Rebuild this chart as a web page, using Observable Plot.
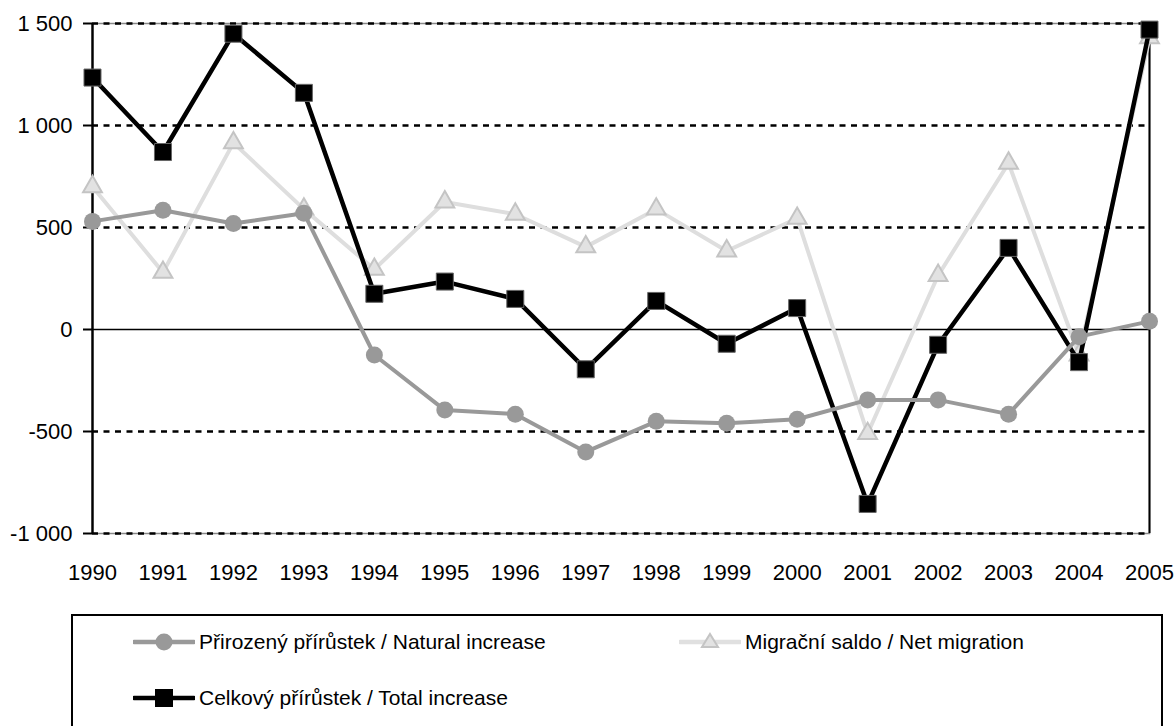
<!DOCTYPE html>
<html>
<head>
<meta charset="utf-8">
<script src="https://cdn.jsdelivr.net/npm/d3@7"></script>
<script src="https://cdn.jsdelivr.net/npm/@observablehq/plot@0.6"></script>
<style>
  html, body { margin: 0; padding: 0; overflow: hidden; background: #fff; }
  body { font-family: 'Liberation Sans', Arial, sans-serif; position: relative; width: 1175px; height: 726px; }
  #legend { position: absolute; left: 71px; top: 614px; width: 1092px; height: 140px; border: 2px solid #000; box-sizing: border-box; }
  .item { position: absolute; display: flex; align-items: center; font-size: 21px; color: #000; white-space: nowrap; }
  .item svg { display: block; margin-right: 4px; }
</style>
</head>
<body>
<div id="chart"></div>
<div id="legend"></div>
<script>
const years = [1990, 1991, 1992, 1993, 1994, 1995, 1996, 1997, 1998, 1999, 2000, 2001, 2002, 2003, 2004, 2005];
const natural = [530, 585, 520, 570, -125, -395, -415, -600, -450, -460, -440, -345, -345, -415, -35, 40];
const migration = [700, 280, 915, 590, 295, 625, 565, 405, 590, 385, 545, -510, 265, 815, -125, 1430];
const total = [1235, 870, 1450, 1160, 175, 235, 150, -195, 140, -70, 105, -855, -75, 400, -160, 1470];
const yTicks = [-1000, -500, 0, 500, 1000, 1500];
const gridValues = [-1000, -500, 500, 1000, 1500];
const seriesNames = ["Přirozený přírůstek / Natural increase", "Migrační saldo / Net migration", "Celkový přírůstek / Total increase"];

const rows = years.map((y, i) => ({year: y, natural: natural[i], migration: migration[i], total: total[i]}));

function fmt(v) {
  const a = Math.abs(v);
  const s = a >= 1000 ? Math.floor(a / 1000) + " " + String(a % 1000).padStart(3, "0") : String(a);
  return (v < 0 ? "-" : "") + s;
}

const chart = Plot.plot({
  width: 1175,
  height: 600,
  marginLeft: 92,
  marginRight: 26,
  marginTop: 23,
  marginBottom: 67,
  style: {fontFamily: "'Liberation Sans', Arial, sans-serif", fontSize: "22px", color: "#000", background: "#fff"},
  x: {domain: [1990, 2005]},
  y: {domain: [-1000, 1500]},
  marks: [
    Plot.frame({stroke: "#888", strokeWidth: 1.5}),
    Plot.ruleY(gridValues, {stroke: "#000", strokeWidth: 2.6, strokeDasharray: "6,5.5"}),
    Plot.ruleY([0], {stroke: "#000", strokeWidth: 1.6}),
    Plot.ruleX([2005], {stroke: "#000", strokeWidth: 2}),
    Plot.ruleX([1990], {stroke: "#000", strokeWidth: 2.4}),
    Plot.axisY({ticks: yTicks, tickFormat: fmt, tickSize: 9, tickPadding: 11, stroke: "#000", strokeWidth: 2, fill: "#000", label: null}),
    Plot.axisX({ticks: years, tickFormat: d => String(d), tickSize: 0, tickPadding: 31, fill: "#000", label: null}),
    Plot.line(rows, {x: "year", y: "migration", stroke: "#dedede", strokeWidth: 4}),
    Plot.dot(rows, {x: "year", y: "migration", symbol: "triangle", r: 7, fill: "#e2e2e2", stroke: "#c4c4c4", strokeWidth: 2}),
    Plot.line(rows, {x: "year", y: "total", stroke: "#000", strokeWidth: 4.5}),
    Plot.dot(rows, {x: "year", y: "total", symbol: "square", r: 9.6, fill: "#000", stroke: "#666", strokeWidth: 1}),
    Plot.line(rows, {x: "year", y: "natural", stroke: "#999", strokeWidth: 4}),
    Plot.dot(rows, {x: "year", y: "natural", r: 8.5, fill: "#999", stroke: "none"})
  ]
});
document.getElementById("chart").appendChild(chart);

// Legend
const legend = document.getElementById("legend");
const swatches = [
  `<svg width="62" height="22"><line x1="1" y1="11" x2="61" y2="11" stroke="#999" stroke-width="4.5" stroke-linecap="round"/><circle cx="31" cy="11" r="8.5" fill="#999"/></svg>`,
  `<svg width="62" height="22"><line x1="1" y1="11" x2="61" y2="11" stroke="#e0e0e0" stroke-width="4.5" stroke-linecap="round"/><path d="M31,3 L39,16 L23,16 Z" fill="#e2e2e2" stroke="#c4c4c4" stroke-width="2"/></svg>`,
  `<svg width="62" height="22"><line x1="1" y1="11" x2="61" y2="11" stroke="#000" stroke-width="4.5" stroke-linecap="round"/><rect x="22" y="2" width="18" height="18" fill="#000"/></svg>`
];
const positions = [[60, 28], [606, 28], [60, 84]];
seriesNames.forEach((name, i) => {
  const d = document.createElement("div");
  d.className = "item";
  d.style.left = positions[i][0] + "px";
  d.style.top = (positions[i][1] - 14) + "px";
  d.innerHTML = swatches[i] + `<span>${name}</span>`;
  legend.appendChild(d);
});
</script>
</body>
</html>
